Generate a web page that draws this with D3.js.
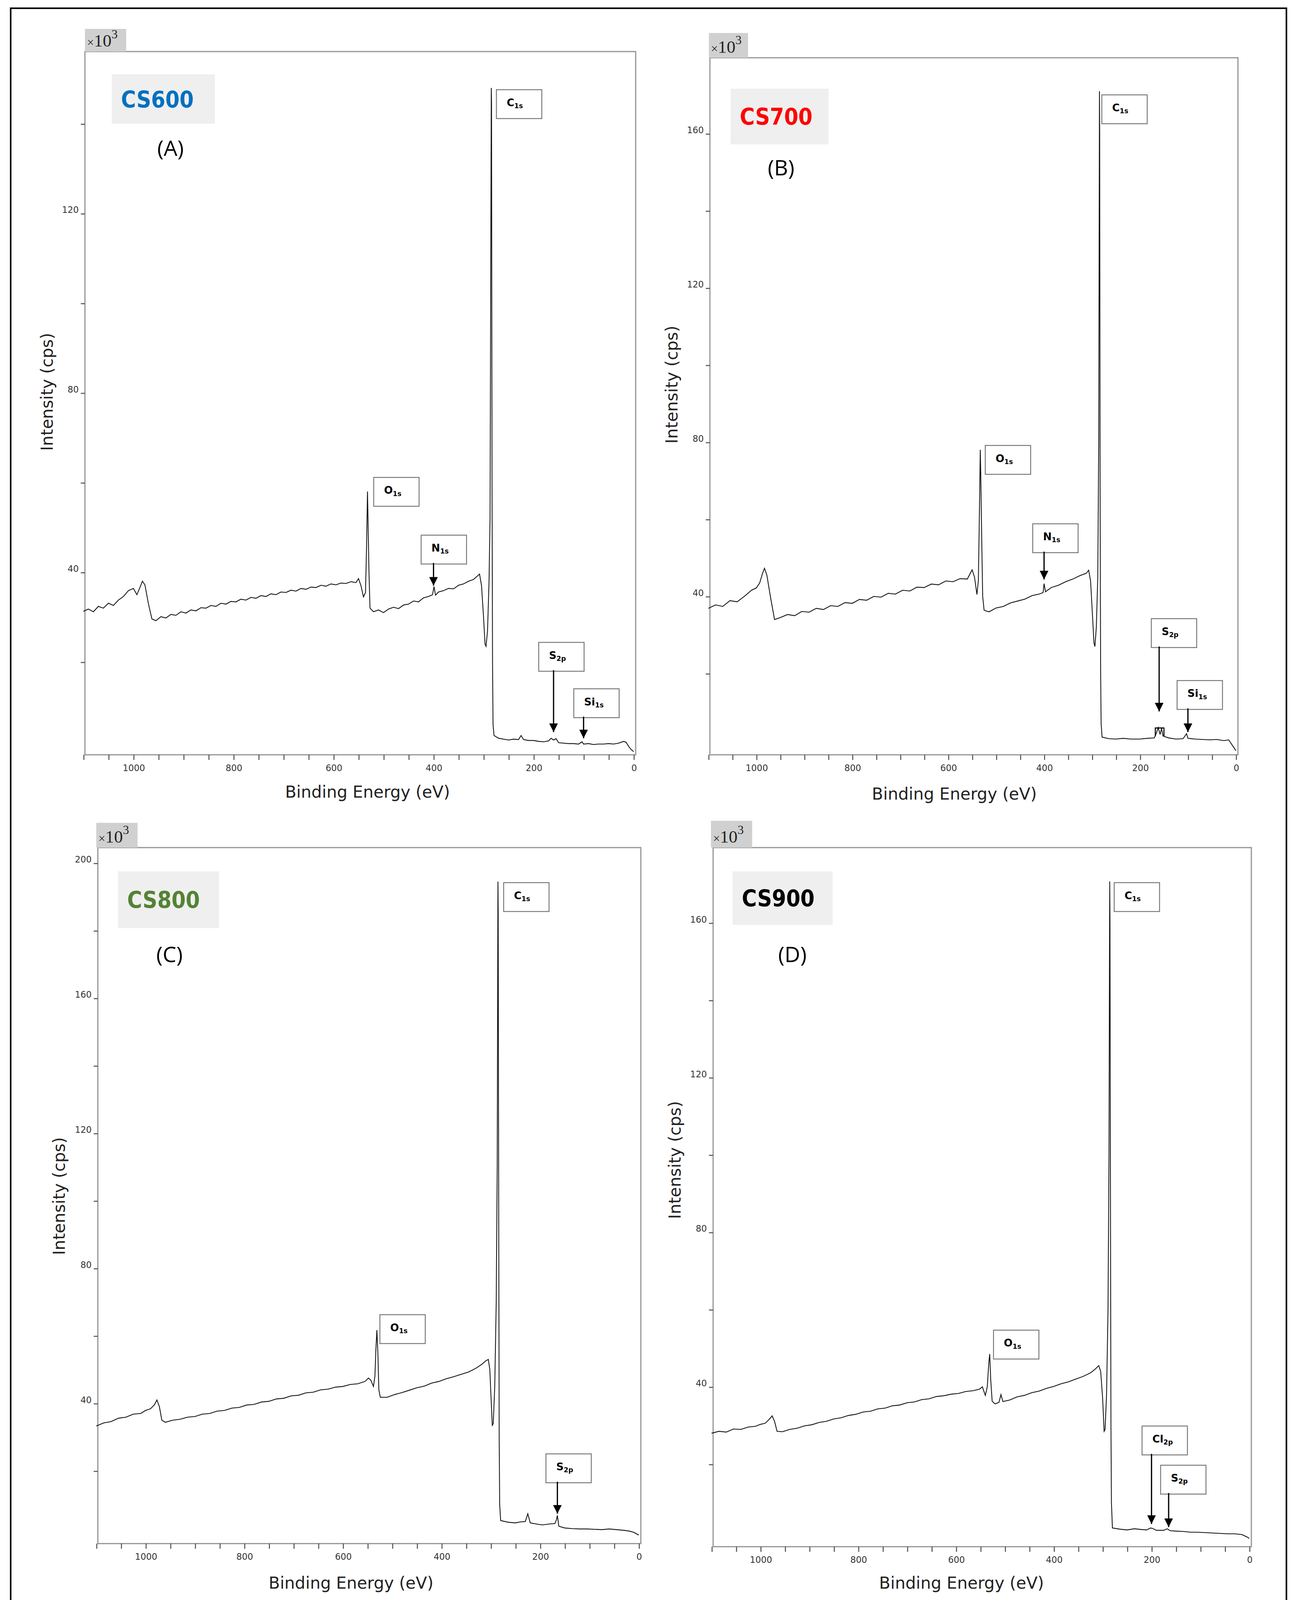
<!DOCTYPE html>
<html><head><meta charset="utf-8">
<script src="https://cdn.jsdelivr.net/npm/d3@7"></script>
<style>body{margin:0;background:#fff}</style>
</head><body>
<script>
// spectra: [binding energy (eV), intensity (x10^3 cps)]
var cs600 = [[1100,31.3],[1090,31.8],[1080,31.2],[1070,32.4],[1060,32.0],[1050,33.1],[1040,32.6],[1030,33.8],[1020,34.6],[1010,35.9],[1000,36.4],[993,35.0],[987,36.6],[982,38.0],[977,37.2],[970,33.0],[963,29.6],[955,29.2],[945,30.1],[935,29.8],[925,30.6],[915,30.4],[905,31.2],[895,30.9],[885,31.6],[875,31.4],[865,32.1],[855,32.0],[845,32.6],[835,32.4],[825,33.1],[815,32.9],[805,33.5],[795,33.4],[785,34.0],[775,33.8],[765,34.4],[755,34.2],[745,34.8],[735,34.6],[725,35.2],[715,35.0],[705,35.6],[695,35.5],[685,36.0],[675,35.8],[665,36.4],[655,36.2],[645,36.7],[635,36.6],[625,37.1],[615,36.9],[605,37.4],[595,37.2],[585,37.6],[575,37.5],[565,37.9],[555,37.7],[550,38.6],[545,37.0],[540,34.5],[536,35.5],[534,45],[532,58],[531,52],[529,40],[527,32],[520,31.2],[510,31.6],[500,31.0],[490,31.8],[480,32.2],[470,31.9],[460,32.7],[450,32.9],[440,33.6],[430,33.4],[420,34.3],[410,34.6],[402,35.0],[399,36.8],[396,34.9],[390,35.6],[380,35.9],[370,36.4],[360,36.3],[350,37.1],[340,37.4],[330,38.0],[320,38.4],[312,39.2],[308,39.6],[304,37],[300,30],[297,24],[295,23.5],[292,27],[289,38],[287,52],[286,90],[285,130],[284.5,148],[284,145],[283,60],[282,20],[281,6],[279,3.6],[270,3.0],[260,2.8],[250,2.6],[240,2.8],[230,2.7],[225,3.6],[220,2.7],[210,2.5],[200,2.5],[190,2.3],[180,2.2],[170,2.4],[165,3.0],[160,2.6],[155,2.9],[150,2.0],[140,1.9],[130,1.8],[120,1.8],[110,1.7],[103,2.2],[100,1.7],[90,1.8],[80,1.6],[70,1.7],[60,1.7],[50,1.8],[40,1.7],[30,1.9],[20,2.3],[15,2.1],[10,1.2],[5,0.5],[0,0]];
var cs700 = [[1100,36.9],[1085,37.8],[1070,37.4],[1055,38.9],[1040,38.6],[1025,40.0],[1010,41.6],[1000,42.2],[993,43.5],[987,46.0],[983,47.3],[978,45.5],[970,39.5],[962,34.0],[950,34.5],[935,35.3],[920,35.0],[905,36.1],[890,35.9],[875,36.9],[860,36.6],[845,37.6],[830,37.4],[815,38.4],[800,38.2],[785,39.2],[770,39.0],[755,40.0],[740,39.8],[725,40.8],[710,40.6],[695,41.6],[680,41.4],[665,42.4],[650,42.3],[635,43.2],[620,43.0],[605,44.0],[590,43.8],[575,44.6],[560,44.5],[550,46.9],[545,45.0],[540,40.5],[537,44],[535,60],[533,78],[532,72],[530,55],[528,40],[525,36.4],[515,36.0],[500,37.0],[485,37.4],[470,38.3],[455,38.8],[440,39.3],[425,40.2],[410,40.6],[402,41.0],[400,43.3],[397,41.2],[385,42.3],[370,42.9],[355,43.8],[340,44.5],[325,45.4],[312,46.0],[307,46.8],[303,44],[299,35],[296,28],[294,27],[291,32],[288,45],[286,80],[285,140],[284.5,171],[284,160],[283,60],[282,20],[281,7],[279,3.5],[265,3.1],[250,3.0],[235,3.2],[220,3.0],[200,3.0],[185,3.2],[170,3.3],[165,4.8],[162,6.0],[158,4.2],[155,5.8],[152,3.8],[140,3.3],[125,3.0],[110,3.1],[103,4.4],[100,3.2],[85,3.0],[70,2.9],[55,2.8],[40,2.9],[25,2.6],[15,2.8],[8,1.5],[0,0]];
var cs800 = [[1100,33.3],[1085,34.2],[1070,34.6],[1055,35.6],[1040,35.9],[1025,36.8],[1010,37.0],[1000,37.9],[990,38.4],[982,39.6],[977,41.0],[972,39.0],[967,35.0],[960,34.4],[945,35.0],[930,35.3],[915,35.9],[900,36.1],[885,36.8],[870,37.0],[855,37.7],[840,37.9],[825,38.6],[810,38.8],[795,39.5],[780,39.7],[765,40.4],[750,40.6],[735,41.3],[720,41.5],[705,42.2],[690,42.4],[675,43.1],[660,43.3],[645,44.0],[630,44.2],[615,44.8],[600,45.0],[585,45.6],[570,45.8],[555,46.5],[548,47.5],[543,46.8],[538,45.0],[535,48],[533,56],[531,61.7],[529,55],[527,44],[524,41.8],[510,41.8],[495,42.6],[480,43.2],[465,43.9],[450,44.6],[435,45.1],[420,46.0],[405,46.5],[390,47.3],[375,47.9],[360,48.6],[345,49.3],[330,50.4],[318,51.6],[310,52.6],[305,53.0],[302,50],[299,40],[297,33.5],[295,34],[292,45],[289,70],[287,110],[286,170],[285.5,194.5],[285,185],[284,100],[283,30],[282,10],[280,5.3],[265,4.8],[250,4.6],[240,4.9],[230,5.0],[225,7.3],[220,4.6],[205,4.2],[195,4.0],[180,4.3],[170,4.4],[167,5.5],[165,6.8],[162,3.6],[150,3.1],[135,2.9],[120,2.8],[105,2.8],[90,2.7],[75,2.6],[60,2.8],[45,2.6],[30,2.4],[20,2.2],[10,1.8],[0,1.0]];
var cs900 = [[1100,28.0],[1085,28.5],[1070,28.3],[1055,29.1],[1040,29.0],[1025,29.6],[1010,29.8],[1000,30.3],[990,30.6],[982,31.6],[976,32.5],[971,31.0],[966,28.5],[955,28.4],[940,29.0],[925,29.3],[910,29.9],[895,30.2],[880,30.8],[865,31.1],[850,31.7],[835,32.0],[820,32.6],[805,32.9],[790,33.5],[775,33.7],[760,34.3],[745,34.5],[730,35.1],[715,35.3],[700,35.9],[685,36.1],[670,36.7],[655,36.9],[640,37.5],[625,37.7],[610,38.1],[595,38.3],[580,38.8],[565,39.0],[552,39.4],[546,40.0],[540,37.8],[536,40],[533,46],[531,48.5],[529,42],[526,36.3],[520,35.6],[512,36.0],[508,38.0],[504,36.2],[490,36.6],[475,37.4],[460,37.8],[445,38.5],[430,38.9],[415,39.6],[400,40.1],[385,40.8],[370,41.3],[355,42.0],[340,42.7],[325,43.6],[315,44.6],[308,45.5],[304,44],[300,37],[297,28.5],[295,29],[292,38],[289,60],[287,100],[286,150],[285.5,170.7],[285,160],[284,90],[283,30],[282,10],[280,3.5],[265,3.2],[250,3.0],[235,3.3],[220,3.1],[210,3.0],[202,3.5],[198,3.4],[190,2.9],[175,2.9],[168,3.3],[162,2.8],[150,2.7],[135,2.6],[120,2.4],[105,2.4],[90,2.3],[75,2.2],[60,2.1],[45,2.0],[30,2.0],[15,1.8],[5,1.2],[0,0.8]];

var sampleNames = ["CS600", "CS700", "CS800", "CS900"];
var panelLetters = ["(A)", "(B)", "(C)", "(D)"];
var sampleColors = ["#0070c0", "#ff0000", "#548235", "#000000"];
var xTickLabels = [1000, 800, 600, 400, 200, 0];
var yTickLabels = [[40, 80, 120], [40, 80, 120, 160], [40, 80, 120, 160, 200], [40, 80, 120, 160]];
// peak labels: [label, subscript, arrow target BE or null]
var peaksA = [["C","1s",null],["O","1s",null],["N","1s",400],["S","2p",160],["Si","1s",100]];
var peaksB = [["C","1s",null],["O","1s",null],["N","1s",400],["S","2p",160],["Si","1s",100]];
var peaksC = [["C","1s",null],["O","1s",null],["S","2p",165]];
var peaksD = [["C","1s",null],["O","1s",null],["Cl","2p",200],["S","2p",165]];

// layout in a 1254x1568 coordinate frame
var W = 1254, H = 1568;
var panels = [
  {data: cs600, peaks: peaksA, x0: 80.5, x1: 614, y0: 729, top: 50, right: 616, bottom: 732, ppu: 4.35,
   unit: [82,28,40,22], name: [108,72,100,48], letter: [165,143], ylab: [45,380], xlab: [356,768],
   boxes: [[481,87],[362,463],[408,519],[522,623],[556,668]], tipY: [null,null,568,710,716]},
  {data: cs700, peaks: peaksB, x0: 686.5, x1: 1198, y0: 728, top: 56, right: 1200, bottom: 732, ppu: 3.74,
   unit: [687,32,38,24], name: [708,86,95,54], letter: [757,162], ylab: [651,373], xlab: [925,770],
   boxes: [[1068,92],[955,432],[1001,508],[1116,600],[1141,660]], tipY: [null,null,562,690,710], bracket: true},
  {data: cs800, peaks: peaksC, x0: 93, x1: 619, y0: 1492, top: 822, right: 621, bottom: 1497, ppu: 3.275,
   unit: [93,798,40,24], name: [114,845,98,55], letter: [164,925], ylab: [57,1160], xlab: [340,1535],
   boxes: [[488,856],[368,1275],[529,1410]], tipY: [null,null,1468]},
  {data: cs900, peaks: peaksD, x0: 689.6, x1: 1211, y0: 1495, top: 822, right: 1213, bottom: 1500, ppu: 3.75,
   unit: [689,796,40,26], name: [710,845,97,52], letter: [768,925], ylab: [654,1125], xlab: [932,1535],
   boxes: [[1080,856],[963,1290],[1107,1383],[1125,1421]], tipY: [null,null,1478,1481]}
];

var svg = d3.select("body").append("svg")
    .attr("width", 3312).attr("height", 4139)
    .attr("viewBox", "0 0 " + W + " " + H);

svg.append("defs").append("marker")
    .attr("id", "arr").attr("viewBox", "0 0 10 10").attr("refX", 10).attr("refY", 5)
    .attr("markerWidth", 7).attr("markerHeight", 7).attr("orient", "auto")
    .append("path").attr("d", "M0,0L10,5L0,10z").attr("fill", "#000");

//outer border
svg.append("rect").attr("x", 10).attr("y", 8).attr("width", 1237).attr("height", 1549)
    .attr("fill", "none").attr("stroke", "#000").attr("stroke-width", 1.5);

panels.forEach(function(p, i){
    var g = svg.append("g");
    var x = d3.scaleLinear().domain([1100, 0]).range([p.x0, p.x1]);
    var y = d3.scaleLinear().domain([0, 40]).range([p.y0, p.y0 - 40 * p.ppu]);
    var ymax = y.invert(p.top);

    //frame
    g.append("rect").attr("x", p.x0 + 1.5).attr("y", p.top).attr("width", p.right - p.x0 - 1.5)
        .attr("height", p.bottom - p.top).attr("fill", "none").attr("stroke", "#9a9a9a").attr("stroke-width", 1.2);

    //x axis
    var xa = d3.axisBottom(x).tickValues(d3.range(0, 1101, 50)).tickSize(5)
        .tickFormat(function(d){ return xTickLabels.indexOf(d) >= 0 ? d : ""; });
    var gx = g.append("g").attr("transform", "translate(0," + p.bottom + ")").call(xa);
    gx.select(".domain").remove();
    gx.selectAll("line").attr("stroke", "#555");
    gx.selectAll("text").attr("font-family", "DejaVu Sans").attr("font-size", 8.5).attr("fill", "#333").attr("dy", "0.9em");

    //y axis
    var ya = d3.axisLeft(y).tickValues(d3.range(20, ymax, 20)).tickSize(4)
        .tickFormat(function(d){ return yTickLabels[i].indexOf(d) >= 0 ? d : ""; });
    var gy = g.append("g").attr("transform", "translate(" + (p.x0 + 1.5) + ",0)").call(ya);
    gy.select(".domain").remove();
    gy.selectAll("line").attr("stroke", "#555");
    gy.selectAll("text").attr("font-family", "DejaVu Sans").attr("font-size", 8.5).attr("fill", "#333")
        .attr("x", -6).attr("dy", "-0.1em");

    //spectrum
    g.append("path").datum(p.data)
        .attr("d", d3.line().x(function(d){ return x(d[0]); }).y(function(d){ return y(d[1]); }))
        .attr("fill", "none").attr("stroke", "#111").attr("stroke-width", 0.8);

    //x10^3 tag
    g.append("rect").attr("x", p.unit[0]).attr("y", p.unit[1]).attr("width", p.unit[2]).attr("height", p.unit[3]).attr("fill", "#d0d0d0");
    var ut = g.append("text").attr("x", p.unit[0] + 2).attr("y", p.unit[1] + p.unit[3] - 5)
        .attr("font-family", "Liberation Serif").attr("font-size", 17).attr("fill", "#222");
    ut.append("tspan").text("×").attr("font-size", 12);
    ut.append("tspan").text("10");
    ut.append("tspan").text("3").attr("font-size", 12).attr("dy", -8);

    //sample name
    g.append("rect").attr("x", p.name[0]).attr("y", p.name[1]).attr("width", p.name[2]).attr("height", p.name[3]).attr("fill", "#efefef");
    g.append("text").attr("x", p.name[0] + 9).attr("y", p.name[1] + p.name[3] / 2 + 8)
        .attr("font-family", "DejaVu Sans Condensed, DejaVu Sans").attr("font-weight", "bold").attr("font-size", 22)
        .attr("fill", sampleColors[i]).text(sampleNames[i]);
    g.append("text").attr("x", p.letter[0]).attr("y", p.letter[1] + 8).attr("text-anchor", "middle")
        .attr("font-family", "Open Sans").attr("font-size", 21).attr("fill", "#000").text(panelLetters[i]);

    //axis titles
    g.append("text").attr("transform", "translate(" + p.ylab[0] + "," + p.ylab[1] + ") rotate(-90)")
        .attr("text-anchor", "middle").attr("dy", "0.35em").attr("font-family", "DejaVu Sans").attr("font-size", 16)
        .attr("fill", "#222").text("Intensity (cps)");
    g.append("text").attr("x", p.xlab[0]).attr("y", p.xlab[1]).attr("text-anchor", "middle").attr("dy", "0.35em")
        .attr("font-family", "DejaVu Sans").attr("font-size", 16).attr("fill", "#222").text("Binding Energy (eV)");

    //peak labels
    p.peaks.forEach(function(pk, k){
        var b = p.boxes[k];
        g.append("rect").attr("x", b[0]).attr("y", b[1]).attr("width", 44).attr("height", 28)
            .attr("fill", "#fff").attr("stroke", "#777").attr("stroke-width", 0.9);
        var t = g.append("text").attr("x", b[0] + 10).attr("y", b[1] + 16)
            .attr("font-family", "DejaVu Sans").attr("font-weight", "bold").attr("font-size", 10).attr("fill", "#000");
        t.append("tspan").text(pk[0]);
        t.append("tspan").text(pk[1]).attr("font-size", 6.5).attr("dy", 2);
        if (pk[2] !== null) {
            g.append("line").attr("x1", x(pk[2])).attr("x2", x(pk[2]))
                .attr("y1", b[1] + 27).attr("y2", p.tipY[k])
                .attr("stroke", "#000").attr("stroke-width", 1.2).attr("marker-end", "url(#arr)");
        }
    });
    if (p.bracket) {
        var bx0 = x(168), bx1 = x(150), by = p.tipY[3] + 16;
        g.append("path").attr("d", "M" + bx0 + "," + (by + 8) + "V" + by + "H" + bx1 + "V" + (by + 8))
            .attr("fill", "none").attr("stroke", "#000").attr("stroke-width", 1);
    }
});
</script>
</body></html>
